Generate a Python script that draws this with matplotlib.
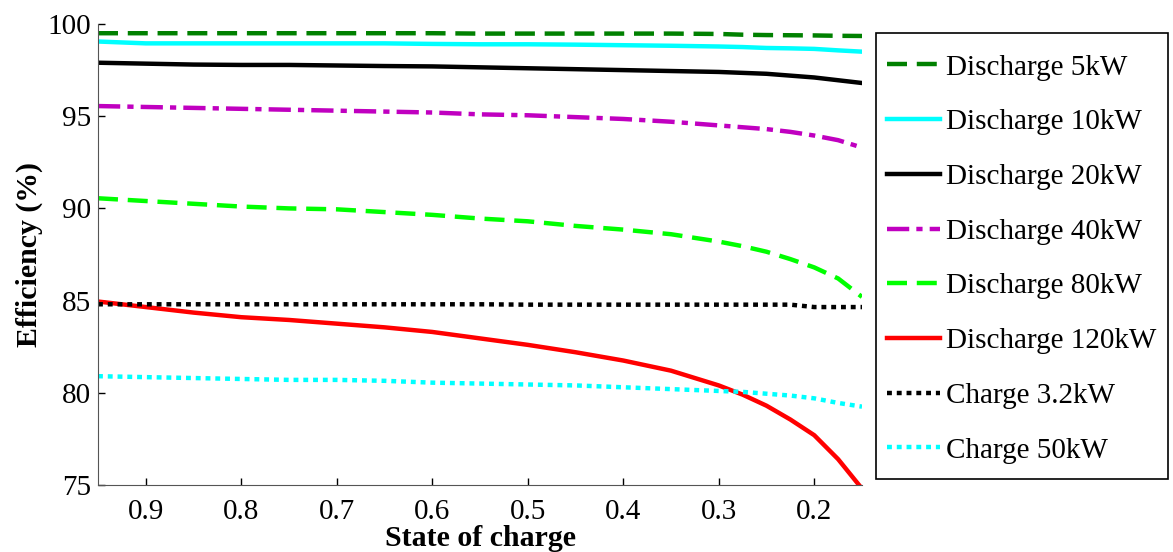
import matplotlib
matplotlib.use("Agg")
import matplotlib.pyplot as plt
from matplotlib.patches import Rectangle

plt.rcParams['font.family'] = ['Liberation Serif', 'DejaVu Serif']

# state of charge (x) и КПД (%) для каждого режима
soc = [0.95, 0.9, 0.85, 0.8, 0.75, 0.7, 0.65, 0.6, 0.55, 0.5, 0.45, 0.4, 0.35, 0.3, 0.275, 0.25, 0.225, 0.2, 0.175, 0.15]

dis_5kw = [99.5, 99.5, 99.5, 99.5, 99.5, 99.5, 99.5, 99.5, 99.48, 99.48, 99.48, 99.48, 99.48, 99.46, 99.42, 99.4, 99.39, 99.38, 99.36, 99.35]
dis_10kw = [99.05, 98.95, 98.95, 98.95, 98.95, 98.95, 98.95, 98.92, 98.9, 98.9, 98.88, 98.85, 98.82, 98.78, 98.75, 98.7, 98.68, 98.65, 98.57, 98.5]
dis_20kw = [97.9, 97.85, 97.8, 97.78, 97.78, 97.75, 97.72, 97.7, 97.65, 97.6, 97.55, 97.5, 97.45, 97.4, 97.35, 97.3, 97.2, 97.1, 96.95, 96.8]
dis_40kw = [95.55, 95.5, 95.45, 95.4, 95.35, 95.3, 95.25, 95.2, 95.1, 95.05, 94.95, 94.85, 94.7, 94.5, 94.4, 94.3, 94.15, 93.95, 93.7, 93.3]
dis_80kw = [90.55, 90.4, 90.25, 90.1, 90.0, 89.95, 89.8, 89.65, 89.45, 89.3, 89.05, 88.85, 88.6, 88.2, 87.95, 87.65, 87.25, 86.8, 86.2, 85.2]
dis_120kw = [84.95, 84.65, 84.35, 84.1, 83.95, 83.75, 83.55, 83.3, 82.95, 82.6, 82.2, 81.75, 81.2, 80.4, 79.9, 79.3, 78.55, 77.7, 76.4, 74.8]
chg_3_2kw = [84.8, 84.8, 84.8, 84.8, 84.8, 84.8, 84.8, 84.8, 84.8, 84.78, 84.78, 84.78, 84.78, 84.78, 84.78, 84.78, 84.78, 84.65, 84.65, 84.65]
chg_50kw = [80.9, 80.85, 80.8, 80.75, 80.7, 80.7, 80.65, 80.55, 80.5, 80.45, 80.4, 80.3, 80.2, 80.1, 80.05, 79.95, 79.85, 79.7, 79.45, 79.25]

x_ticks = [0.9, 0.8, 0.7, 0.6, 0.5, 0.4, 0.3, 0.2]
y_ticks = [75, 80, 85, 90, 95, 100]

fig = plt.figure(figsize=(11.73, 5.52), dpi=100)
ax = fig.add_axes([98 / 1173, 1 - 485 / 552, (862 - 98) / 1173, (485 - 24) / 552])

lw = 3.2
ax.plot(soc, dis_5kw, color='#008000', lw=lw, dashes=(4.5, 2.2), label='Discharge 5kW')
ax.plot(soc, dis_10kw, color='#00ffff', lw=lw, label='Discharge 10kW')
ax.plot(soc, dis_20kw, color='black', lw=lw, label='Discharge 20kW')
ax.plot(soc, dis_40kw, color='#c000c0', lw=lw, dashes=(5, 1.6, 1.4, 1.6), label='Discharge 40kW')
ax.plot(soc, dis_80kw, color='#00ff00', lw=lw, dashes=(4.5, 2.2), label='Discharge 80kW')
ax.plot(soc, dis_120kw, color='red', lw=lw, label='Discharge 120kW')
ax.plot(soc, chg_3_2kw, color='black', lw=lw, dashes=(1.1, 1.1), label='Charge 3.2kW')
ax.plot(soc, chg_50kw, color='#00ffff', lw=lw, dashes=(1.1, 1.1), label='Charge 50kW')

ax.set_xlim(0.95, 0.15)
ax.set_ylim(75, 100)
ax.set_xticks(x_ticks)
ax.set_xticklabels(['%.1f' % v for v in x_ticks])
ax.set_yticks(y_ticks)
ax.tick_params(direction='in', length=5, labelsize=21, width=1, pad=5)
ax.tick_params(axis='x', pad=10)
ax.spines['top'].set_visible(False)
ax.spines['right'].set_visible(False)
for s in ['left', 'bottom']:
    ax.spines[s].set_color('#555555')

ax.set_xlabel('State of charge', fontsize=21.5, fontweight='bold', labelpad=0)
ax.set_ylabel('Efficiency (%)', fontsize=21.5, fontweight='bold', labelpad=3)

# легенда без рамки + отдельная рамка, как в MATLAB
ax.legend(loc='upper left', bbox_to_anchor=(877 / 1173, 1 - 44 / 552),
          bbox_transform=fig.transFigure, borderaxespad=0, fontsize=21,
          frameon=False, handlelength=1.8, handletextpad=0.2,
          labelspacing=0.97, borderpad=0.35)
fig.add_artist(Rectangle((876 / 1173, 1 - 479 / 552), (1168 - 876) / 1173, (479 - 33) / 552,
                         transform=fig.transFigure, fill=False, edgecolor='black', lw=1.2))

fig.savefig('out.png', dpi=100)
